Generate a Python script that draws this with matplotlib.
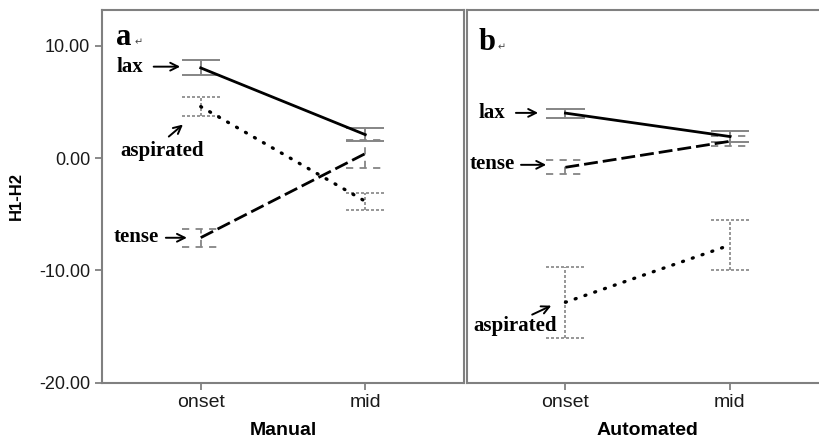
import numpy as np
import matplotlib.pyplot as plt

# H1-H2 group means with error bar limits, onset vs mid
positions = ["onset", "mid"]

manual_lax = [8.04, 2.09]
manual_lax_lo = [7.44, 1.56]
manual_lax_hi = [8.72, 2.72]

manual_asp = [4.59, -3.85]
manual_asp_lo = [3.73, -4.59]
manual_asp_hi = [5.45, -3.10]

manual_tense = [-7.09, 0.40]
manual_tense_lo = [-7.91, -0.85]
manual_tense_hi = [-6.28, 1.59]

auto_lax = [4.01, 1.92]
auto_lax_lo = [3.61, 1.44]
auto_lax_hi = [4.41, 2.39]

auto_asp = [-12.85, -7.75]
auto_asp_lo = [-16.02, -9.94]
auto_asp_hi = [-9.73, -5.54]

auto_tense = [-0.82, 1.50]
auto_tense_lo = [-1.44, 1.05]
auto_tense_hi = [-0.20, 1.94]

yticks = [-20, -10, 0, 10]

W, H = 819, 438
GRID = "#808080"
BAR = "#858585"
serif = ["Liberation Serif", "DejaVu Serif"]
sans = "Liberation Sans"

line_styles = {
    "lax": dict(ls="-", lw=2.0),
    "asp": dict(ls=(0, (0.3, 2.8)), lw=2.4, dash_capstyle="round"),
    "tense": dict(ls=(0, (5, 1.8)), lw=2.0),
}
bar_styles = {
    "lax": dict(ls="-", lw=1.4),
    "asp": dict(ls=(0, (1.8, 1.2)), lw=1.2),
    "tense": dict(ls=(0, (4, 3.5)), lw=1.3),
}


def draw_series(ax, key, mean, lo, hi):
    x = np.arange(len(mean))
    cap = 0.116
    ax.vlines(x, lo, hi, color=BAR, zorder=2, **bar_styles[key])
    ax.hlines(lo, x - cap, x + cap, color=BAR, zorder=2, **bar_styles[key])
    ax.hlines(hi, x - cap, x + cap, color=BAR, zorder=2, **bar_styles[key])
    ax.plot(x, mean, color="black", zorder=3, **line_styles[key])


def setup(ax, xlabel, show_y):
    ax.set_xlim(-0.6, 1.6)
    ax.set_ylim(-20, 13.2)
    ax.set_xticks([0, 1])
    ax.set_xticklabels(positions, fontfamily=sans, fontsize=14, color="#1a1a1a")
    ax.set_xlabel(xlabel, fontfamily=sans, fontsize=14, fontweight="bold", labelpad=8)
    for s in ax.spines.values():
        s.set_color(GRID)
        s.set_linewidth(1.5)
    ax.tick_params(axis="both", direction="out", length=5, width=1.3, color=GRID)
    if show_y:
        ax.set_yticks(yticks)
        ax.set_yticklabels(["%.2f" % v for v in yticks], fontfamily=sans,
                           fontsize=13, color="#1a1a1a")
        ax.set_ylabel("H1-H2", fontfamily=sans, fontsize=12, fontweight="bold")
        ax.yaxis.set_label_coords(-0.215, 0.5)
    else:
        ax.set_yticks([])


def label(ax, text, tx, ty, start, end, ha="right"):
    ax.text(tx, ty, text, ha=ha, va="center", fontfamily=serif,
            fontsize=15, fontweight="bold")
    ax.annotate("", xy=end, xytext=start,
                arrowprops=dict(arrowstyle="->", color="black", lw=1.4,
                                shrinkA=0, shrinkB=0, mutation_scale=14))


def panel_tag(ax, letter, x, y):
    ax.text(x, y, letter, ha="left", va="baseline", fontfamily=serif,
            fontsize=22, fontweight="bold")
    ax.text(x + 0.11, y, "\u21b5", ha="left", va="baseline",
            fontfamily=["DejaVu Sans"], fontsize=7, color="#444444")


fig = plt.figure(figsize=(W / 100, H / 100), dpi=100)
bottom = (H - 382.5) / H
height = (382.5 - 10) / H
ax1 = fig.add_axes([102 / W, bottom, 362 / W, height])
ax2 = fig.add_axes([466.7 / W, bottom, 362 / W, height])

# Manual
draw_series(ax1, "lax", manual_lax, manual_lax_lo, manual_lax_hi)
draw_series(ax1, "asp", manual_asp, manual_asp_lo, manual_asp_hi)
draw_series(ax1, "tense", manual_tense, manual_tense_lo, manual_tense_hi)
setup(ax1, "Manual", True)
panel_tag(ax1, "a", -0.515, 10.05)
label(ax1, "lax", -0.347, 8.15, (-0.286, 8.15), (-0.125, 8.15))
label(ax1, "aspirated", -0.234, 0.67, (-0.194, 1.92), (-0.108, 2.99), ha="center")
label(ax1, "tense", -0.255, -7.02, (-0.212, -7.1), (-0.084, -7.1))

# Automated
draw_series(ax2, "lax", auto_lax, auto_lax_lo, auto_lax_hi)
draw_series(ax2, "asp", auto_asp, auto_asp_lo, auto_asp_hi)
draw_series(ax2, "tense", auto_tense, auto_tense_lo, auto_tense_hi)
setup(ax2, "Automated", False)
panel_tag(ax2, "b", -0.525, 9.6)
label(ax2, "lax", -0.368, 4.03, (-0.301, 4.03), (-0.166, 4.03))
label(ax2, "tense", -0.307, -0.55, (-0.27, -0.6), (-0.117, -0.6))
label(ax2, "aspirated", -0.307, -15.0, (-0.202, -13.95), (-0.086, -13.15), ha="center")

fig.savefig("out.png", dpi=100)
